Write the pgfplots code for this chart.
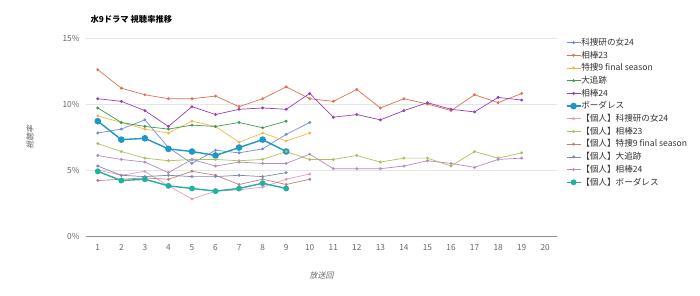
\documentclass[border=0pt]{standalone}
\usepackage{pgfplots}
\pgfplotsset{compat=1.18}
\usepackage{fontspec}
\setmainfont{Noto Sans CJK JP}
\newfontfamily\cjkit{Noto Sans CJK JP}[FakeSlant=0.2]
\definecolor{cA}{HTML}{6F8FCF}
\definecolor{cB}{HTML}{E07050}
\definecolor{cC}{HTML}{F0B84A}
\definecolor{cD}{HTML}{3F9A4A}
\definecolor{cE}{HTML}{9B3DB3}
\definecolor{cF}{HTML}{1F97C7}
\definecolor{cG}{HTML}{E59AC0}
\definecolor{cH}{HTML}{A9C25A}
\definecolor{cI}{HTML}{C08080}
\definecolor{cJ}{HTML}{7A8AA8}
\definecolor{cK}{HTML}{B58AC8}
\definecolor{cL}{HTML}{22B0A0}
\definecolor{txt}{HTML}{666666}
\begin{document}
\begin{tikzpicture}
\useasboundingbox (0,0) rectangle (700pt,295pt);
\node[anchor=west, font=\fontsize{8.3}{9}\selectfont\bfseries] at (87pt,276pt) {水9ドラマ 視聴率推移};
\begin{axis}[
  at={(86pt,59pt)}, anchor=south west,
  scale only axis, width=471pt, height=198pt,
  xmin=0.5, xmax=20.5, ymin=0, ymax=15,
  xtick={1,...,20}, ytick={0,5,10,15},
  yticklabels={0\%,5\%,10\%,15\%},
  /pgf/number format/assume math mode=true,
  ticklabel style={font=\fontsize{8.3}{9}\selectfont, text=txt},
  xticklabel style={yshift=-5pt},
  yticklabel style={xshift=-3pt},
  ymajorgrids, grid style={draw=black!10, line width=0.6pt},
  axis lines*=left,
  y axis line style={draw=none},
  x axis line style={draw=black!45, line width=0.9pt, -},
  tick style={draw=none},
  xlabel={\cjkit 放送回}, ylabel={\cjkit 視聴率},
  label style={font=\fontsize{8}{9}\selectfont, text=txt},
  xlabel style={yshift=-14pt},
  ylabel style={yshift=22pt},
  clip=false,
  legend cell align=left,
  legend style={at={(1.012,1.012)}, anchor=north west, draw=none, fill=none,
    font=\fontsize{8.6}{9}\selectfont, text=black!80, row sep=3.2pt,
    nodes={inner sep=0pt, text height=7.5pt, text depth=2pt}},
  legend image code/.code={\draw[mark repeat=2, mark phase=2, #1] plot coordinates {(0pt,0pt) (7pt,0pt) (14pt,0pt)};},
  every axis plot/.append style={line width=0.7pt, mark=*, mark size=1.1pt},
]
\addplot[color=cA] coordinates {(1,7.8)(2,8.1)(3,8.8)(4,6.7)(5,5.5)(6,6.5)(7,6.3)(8,6.6)(9,7.7)(10,8.6)};
\addlegendentry{科捜研の女24}
\addplot[color=cB] coordinates {(1,12.6)(2,11.2)(3,10.7)(4,10.4)(5,10.4)(6,10.6)(7,9.8)(8,10.4)(9,11.3)(10,10.4)(11,10.2)(12,11.1)(13,9.7)(14,10.4)(15,10.0)(16,9.5)(17,10.7)(18,10.1)(19,10.8)};
\addlegendentry{相棒23}
\addplot[color=cC] coordinates {(1,9.1)(2,8.6)(3,8.1)(4,7.8)(5,8.7)(6,8.3)(7,7.1)(8,7.8)(9,7.2)(10,7.8)};
\addlegendentry{特捜9 final season}
\addplot[color=cD] coordinates {(1,9.7)(2,8.6)(3,8.3)(4,8.1)(5,8.4)(6,8.3)(7,8.6)(8,8.2)(9,8.7)};
\addlegendentry{大追跡}
\addplot[color=cE] coordinates {(1,10.4)(2,10.2)(3,9.5)(4,8.3)(5,9.8)(6,9.2)(7,9.6)(8,9.7)(9,9.6)(10,10.8)(11,9.0)(12,9.2)(13,8.8)(14,9.5)(15,10.1)(16,9.6)(17,9.4)(18,10.5)(19,10.3)};
\addlegendentry{相棒24}
\addplot[color=cF, line width=1.4pt, mark size=2.6pt] coordinates {(1,8.7)(2,7.3)(3,7.4)(4,6.6)(5,6.4)(6,6.1)(7,6.7)(8,7.3)(9,6.4)};
\addlegendentry{ボーダレス}
\addplot[color=cG] coordinates {(1,5.0)(2,4.6)(3,4.9)(4,3.8)(5,2.8)(6,3.4)(7,3.5)(8,3.7)(9,4.3)(10,4.7)};
\addlegendentry{【個人】科捜研の女24}
\addplot[color=cH] coordinates {(1,7.0)(2,6.4)(3,5.9)(4,5.7)(5,5.8)(6,5.8)(7,5.7)(8,5.8)(9,6.4)(10,5.8)(11,5.8)(12,6.1)(13,5.6)(14,5.9)(15,5.9)(16,5.3)(17,6.4)(18,5.9)(19,6.3)};
\addlegendentry{【個人】相棒23}
\addplot[color=cI] coordinates {(1,4.2)(2,4.3)(3,4.4)(4,4.3)(5,4.9)(6,4.6)(7,3.9)(8,4.3)(9,3.9)(10,4.3)};
\addlegendentry{【個人】特捜9 final season}
\addplot[color=cJ] coordinates {(1,5.3)(2,4.6)(3,4.5)(4,4.6)(5,4.5)(6,4.5)(7,4.6)(8,4.5)(9,4.8)};
\addlegendentry{【個人】大追跡}
\addplot[color=cK] coordinates {(1,6.1)(2,5.8)(3,5.6)(4,4.8)(5,5.8)(6,5.3)(7,5.6)(8,5.5)(9,5.5)(10,6.2)(11,5.1)(12,5.1)(13,5.1)(14,5.3)(15,5.7)(16,5.5)(17,5.2)(18,5.8)(19,5.9)};
\addlegendentry{【個人】相棒24}
\addplot[color=cL, line width=1.4pt, mark size=2.2pt] coordinates {(1,4.9)(2,4.2)(3,4.3)(4,3.8)(5,3.6)(6,3.4)(7,3.6)(8,4.0)(9,3.6)};
\addlegendentry{【個人】ボーダレス}
\end{axis}
\end{tikzpicture}
\end{document}
